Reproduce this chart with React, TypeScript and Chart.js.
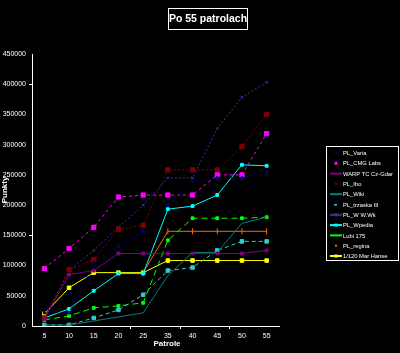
import React, { useEffect, useRef } from 'react';
import { Chart, registerables } from 'chart.js';

Chart.register(...registerables);

const categories = ['5', '10', '15', '20', '25', '35', '40', '45', '50', '55'];
const seriesNames = [
  'PL_Varia', 'PL_CMG Labs', 'WARP TC Cz-Gdar', 'PL_Ibo', 'PL_Wiki', 'PL_trzaska III',
  'PL_W W.Wk', 'PL_Wpedia', 'Lubi 175', 'PL_regina', '1/120 Mar Hanse',
];
const yTickValues = [0, 50000, 100000, 150000, 200000, 250000, 300000, 350000, 400000, 450000];

const plVaria = [21700, 21700, 105000, 131700, 156700, 200000, 240000, 245000, 245000, 255000];
const plCmg = [95000, 128300, 163300, 213300, 216700, 216700, 216700, 250000, 250000, 318300];
const warp = [11700, 85000, 91700, 120000, 120000, 120000, 120000, 120000, 120000, 125000];
const plIbo = [13300, 93300, 110000, 160000, 166700, 258300, 258300, 258300, 296700, 350000];
const plWiki = [1700, 1700, 8300, 15000, 21700, 83300, 121700, 121700, 170000, 180000];
const plTrzaska = [1700, 1700, 13300, 26700, 51700, 91700, 96700, 125000, 140000, 140000];
const plWwk = [13300, 91700, 125000, 163300, 200000, 245000, 245000, 326700, 378300, 403300];
const plPedia = [13300, 28300, 58300, 86700, 86700, 193300, 198300, 216700, 266700, 265000];
const lubi = [10000, 16700, 30000, 33300, 38300, 141700, 178300, 178300, 178300, 180000];
const plRegina = [null, null, null, null, 88300, 156700, 156700, 156700, 156700, 156700];
const marHanse = [20000, 63300, 88300, 88300, 88300, 108300, 108300, 108300, 108300, 108300];

const seriesValues = [plVaria, plCmg, warp, plIbo, plWiki, plTrzaska, plWwk, plPedia, lubi, plRegina, marHanse];

const styles = [
  { color: '#000080', dash: [2, 2], point: 'rect', r: 1.5, legend: 'dot' },
  { color: '#FF00FF', dash: [3, 3], point: 'rect', r: 3, legend: 'square' },
  { color: '#800080', dash: [], point: 'rect', r: 2, legend: 'line' },
  { color: '#800000', dash: [2, 2], point: 'rect', r: 3, legend: 'dot' },
  { color: '#008080', dash: [], point: 'rect', r: 0, legend: 'line' },
  { color: '#33CCCC', dash: [4, 3], point: 'rect', r: 2.5, legend: 'dash' },
  { color: '#3333AA', dash: [2, 2], point: 'crossRot', r: 2, legend: 'linemark' },
  { color: '#00FFFF', dash: [], point: 'rect', r: 2, legend: 'linemark' },
  { color: '#00FF00', dash: [6, 4], point: 'rect', r: 2, legend: 'line' },
  { color: '#FF6600', dash: [], point: 'line', r: 3, legend: 'dot' },
  { color: '#FFFF00', dash: [], point: 'rect', r: 2.5, legend: 'linemark' },
];

const FONT = 'Liberation Sans';

const framePlugin = {
  id: 'frame',
  beforeDraw(chart: any) {
    const ctx = chart.ctx;
    ctx.save();
    ctx.fillStyle = '#000';
    ctx.fillRect(0, 0, chart.width, chart.height);
    ctx.restore();
  },
  afterDraw(chart: any) {
    const ctx = chart.ctx;
    ctx.save();
    // title
    ctx.strokeStyle = '#fff';
    ctx.lineWidth = 1;
    ctx.strokeRect(168.5, 8.5, 79, 21);
    ctx.fillStyle = '#fff';
    ctx.font = `bold 10.5px ${FONT}`;
    ctx.textAlign = 'center';
    ctx.textBaseline = 'middle';
    ctx.fillText('Po 55 patrolach', 208, 19.5);
    // x title
    ctx.font = `bold 8px ${FONT}`;
    ctx.fillText('Patrole', 167, 344);
    // legend
    ctx.strokeRect(326.5, 146.5, 72, 114);
    ctx.font = `5.8px ${FONT}`;
    ctx.textAlign = 'left';
    chart.data.datasets.forEach((ds: any, i: number) => {
      const st = styles[i];
      const y = 153 + i * 10.3;
      ctx.fillStyle = st.color;
      ctx.strokeStyle = st.color;
      if (st.legend === 'line' || st.legend === 'linemark') {
        ctx.lineWidth = 2;
        ctx.beginPath();
        ctx.moveTo(330, y);
        ctx.lineTo(342, y);
        ctx.stroke();
        if (st.legend === 'linemark') ctx.fillRect(334.5, y - 1.5, 3, 3);
      } else if (st.legend === 'square') {
        ctx.fillRect(334.5, y - 1.5, 3, 3);
      } else if (st.legend === 'dash') {
        ctx.fillRect(334, y - 0.5, 3, 1.5);
      } else {
        ctx.fillRect(335, y - 1, 2, 2);
      }
      ctx.fillStyle = '#fff';
      ctx.fillText(ds.label, 343, y + 0.5);
    });
    ctx.restore();
  },
};

export default function App() {
  const ref = useRef<HTMLCanvasElement>(null);
  useEffect(() => {
    document.body.style.margin = '0';
    document.body.style.background = '#000';
    const canvas = ref.current!;
    const chart = new Chart(canvas, {
      type: 'line',
      data: {
        labels: categories,
        datasets: seriesValues.map((vals, i) => ({
          label: seriesNames[i],
          data: vals,
          borderColor: styles[i].color,
          backgroundColor: styles[i].color,
          borderWidth: 1,
          borderDash: styles[i].dash,
          pointStyle: styles[i].point as any,
          pointRadius: styles[i].r,
          pointRotation: styles[i].point === 'line' ? 90 : 0,
          pointBorderWidth: 1,
          fill: false,
          tension: 0,
          spanGaps: false,
        })),
      },
      options: {
        responsive: false,
        animation: false,
        events: [],
        layout: { padding: { top: 54, right: 121, left: 0, bottom: 0 } },
        plugins: {
          legend: { display: false },
          title: { display: false },
          tooltip: { enabled: false },
        },
        scales: {
          x: {
            type: 'category',
            offset: true,
            grid: {
              offset: true,
              drawOnChartArea: false,
              tickLength: 3,
              tickColor: (c: any) => ([4, 6, 8, 10].includes(c.index) ? '#fff' : 'rgba(0,0,0,0)'),
            },
            border: { color: '#fff', width: 1 },
            ticks: { color: '#fff', font: { size: 7, family: FONT }, padding: 3, maxRotation: 0, autoSkip: false },
            afterFit: (s: any) => { s.height = 27; },
          },
          y: {
            min: 0,
            max: 450000,
            afterBuildTicks: (s: any) => { s.ticks = yTickValues.map((v) => ({ value: v })); },
            grid: {
              drawOnChartArea: false,
              tickLength: 3,
              tickColor: (c: any) => (c.tick && (c.tick.value === 150000 || c.tick.value === 400000) ? '#fff' : 'rgba(0,0,0,0)'),
            },
            border: { color: '#fff', width: 1 },
            ticks: { color: '#fff', font: { size: 7, family: FONT }, padding: 3, callback: (v: any) => String(v) },
            title: { display: true, text: 'Punkty', color: '#fff', font: { size: 8, weight: 'bold', family: FONT }, padding: 0 },
            afterFit: (s: any) => { s.width = 32; },
          },
        },
      },
      plugins: [framePlugin],
    });
    return () => chart.destroy();
  }, []);
  return <canvas ref={ref} width={400} height={353} style={{ display: 'block', background: '#000' }} />;
}
